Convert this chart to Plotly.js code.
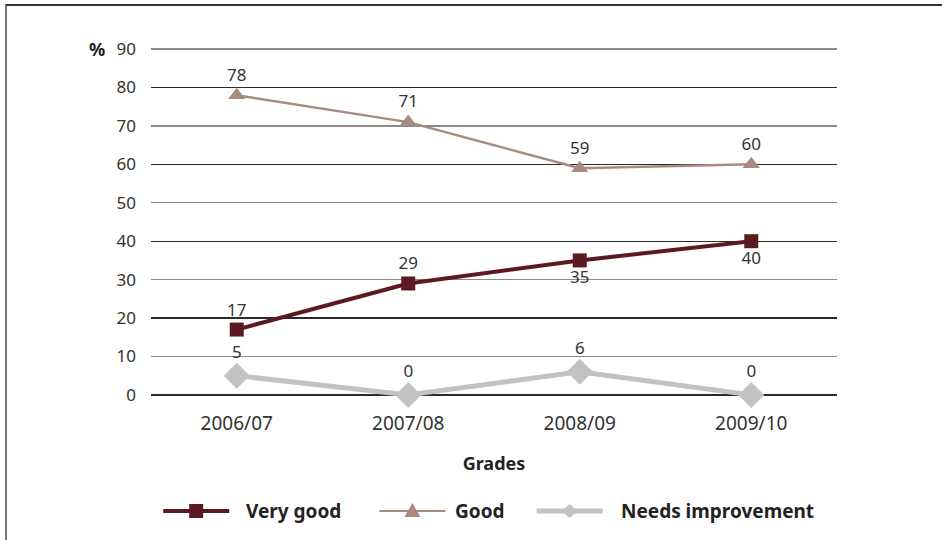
<!DOCTYPE html>
<html>
<head>
<meta charset="utf-8">
<script src="https://cdn.plot.ly/plotly-3.0.1.min.js"></script>
<style>
html,body{margin:0;padding:0;background:#fff;}
#frame{position:absolute;left:5px;top:4px;width:937px;height:536px;border-top:2px solid #333;border-left:2px solid #777;}
#chart{position:absolute;left:0;top:0;width:942px;height:540px;}
</style>
</head>
<body>
<div id="frame"></div>
<div id="chart"></div>
<script>
const categories = ["2006/07", "2007/08", "2008/09", "2009/10"];
const veryGood = [17, 29, 35, 40];
const good = [78, 71, 59, 60];
const needsImprovement = [5, 0, 6, 0];
const seriesNames = ["Very good", "Good", "Needs improvement"];
const veryGoodLabelPos = ["top center", "top center", "bottom center", "bottom center"];
const yTicks = [0, 10, 20, 30, 40, 50, 60, 70, 80, 90];

const font = "Noto Sans, Open Sans, sans-serif";
const colVG = "#5b1a20", colG = "#a98a80", colNI = "#c2c2c5";

const traces = [
  {
    x: categories, y: veryGood, name: seriesNames[0], type: "scatter",
    mode: "lines+markers+text", text: veryGood.map(String), textposition: veryGoodLabelPos,
    textfont: {size: 17, color: "#333", family: font},
    line: {color: colVG, width: 4},
    marker: {symbol: "square", size: 14, color: colVG},
    cliponaxis: false, showlegend: false
  },
  {
    x: categories, y: good, name: seriesNames[1], type: "scatter",
    mode: "lines+markers+text", text: good.map(String), textposition: "top center",
    textfont: {size: 17, color: "#333", family: font},
    line: {color: colG, width: 2.5},
    marker: {symbol: "triangle-up", size: 15, color: colG},
    cliponaxis: false, showlegend: false
  },
  {
    x: categories, y: needsImprovement, name: seriesNames[2], type: "scatter",
    mode: "lines+markers+text", text: needsImprovement.map(String), textposition: "top center",
    textfont: {size: 17, color: "#333", family: font},
    line: {color: colNI, width: 5},
    marker: {symbol: "diamond", size: 20, color: colNI},
    cliponaxis: false, showlegend: false
  },
  {
    x: categories, y: needsImprovement, yaxis: "y2", type: "scatter", mode: "none",
    showlegend: false, hoverinfo: "skip"
  }
];

// Manual legend (paper-anchored decorations with pixel sizes)
const legY = -0.3257;
const legItems = [
  {cx: 0.0659, tx: 0.1353, color: colVG, width: 4, marker: "M-7,-7 L7,-7 L7,7 L-7,7 Z"},
  {cx: 0.3811, tx: 0.4402, color: colG, width: 2, marker: "M-8,-6 L8,-6 L0,8 Z"},
  {cx: 0.6102, tx: 0.6824, color: colNI, width: 5, marker: "M-8,0 L0,-7 L8,0 L0,7 Z"}
];
const shapes = [];
const annotations = [
  {text: "<b>%</b>", xref: "paper", yref: "paper", x: -0.078, y: 0.994, xanchor: "center", yanchor: "middle",
   showarrow: false, font: {size: 18, color: "#222"}}
];
legItems.forEach((it, i) => {
  shapes.push({type: "line", xref: "paper", yref: "paper", xsizemode: "pixel", ysizemode: "pixel",
    xanchor: it.cx, yanchor: legY, x0: -33, x1: 33, y0: 0, y1: 0,
    line: {color: it.color, width: it.width}});
  shapes.push({type: "path", xref: "paper", yref: "paper", xsizemode: "pixel", ysizemode: "pixel",
    xanchor: it.cx, yanchor: legY, path: it.marker, fillcolor: it.color, line: {width: 0}});
  annotations.push({text: "<b>" + seriesNames[i] + "</b>", xref: "paper", yref: "paper",
    x: it.tx, y: legY, xanchor: "left", yanchor: "middle", showarrow: false,
    font: {size: 19, color: "#222", family: font}});
});

const layout = {
  width: 942, height: 540,
  margin: {l: 151, r: 105, t: 47, b: 143},
  paper_bgcolor: "rgba(0,0,0,0)", plot_bgcolor: "rgba(0,0,0,0)",
  font: {family: font, size: 17, color: "#333"},
  showlegend: false,
  xaxis: {
    type: "category", range: [-0.5, 3.5], showgrid: false, zeroline: false,
    showline: false, ticks: "", tickfont: {size: 19, color: "#333"}, ticklabelstandoff: 13,
    title: {text: "<b>Grades</b>", font: {size: 18, color: "#222"}, standoff: 22}
  },
  yaxis: {
    range: [-0.55, 90.55], tickvals: yTicks, ticktext: yTicks.map(String),
    showgrid: true, gridcolor: "#8a8a8a", gridwidth: 1.4, zeroline: false,
    showline: false, ticks: "", ticklabelstandoff: 14,
    tickfont: {size: 17, color: "#333"}
  },
  yaxis2: {
    range: [-0.55, 90.55], overlaying: "y", side: "left", dtick: 20, tick0: 0,
    showgrid: true, gridcolor: "#2a2a2a", gridwidth: 1.3, zeroline: false,
    showticklabels: false, showline: false, ticks: ""
  },
  shapes: shapes,
  annotations: annotations
};

Plotly.newPlot("chart", traces, layout, {displayModeBar: false, staticPlot: true});
</script>
</body>
</html>
